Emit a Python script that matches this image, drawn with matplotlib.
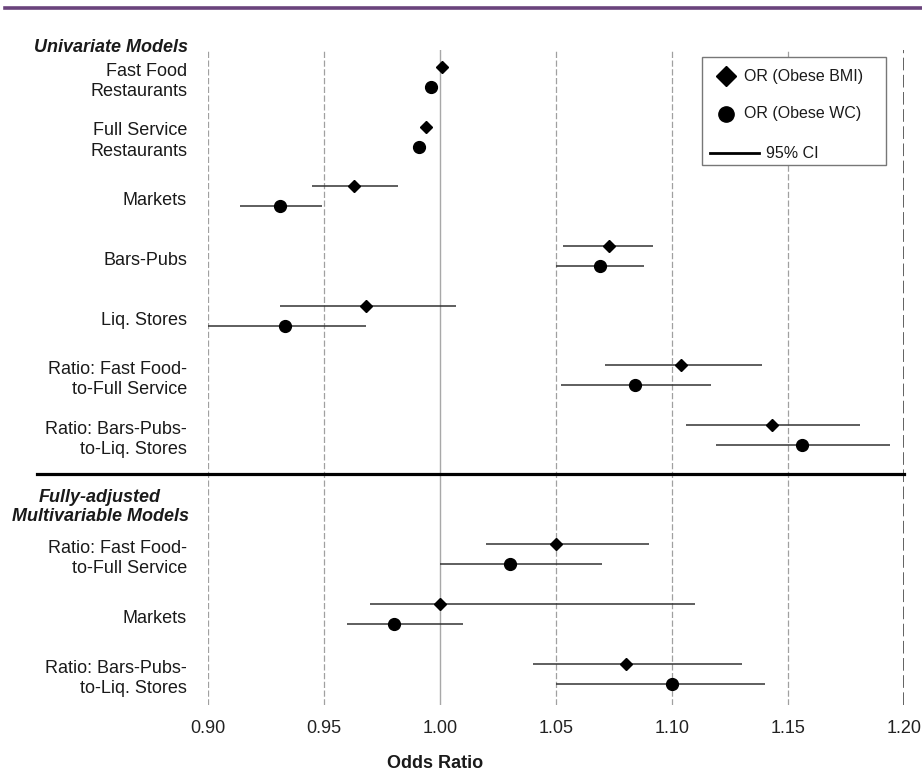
import numpy as np
import matplotlib
matplotlib.use('Agg')
import matplotlib.pyplot as plt
from matplotlib.lines import Line2D
from matplotlib.patches import Rectangle

plt.rcParams['font.family'] = ['Liberation Sans', 'DejaVu Sans']

# row labels (univariate groups 0-6, multivariable groups 8-10)
labels = ['Fast Food\nRestaurants', 'Full Service\nRestaurants', 'Markets', 'Bars-Pubs',
          'Liq. Stores', 'Ratio: Fast Food-\nto-Full Service', 'Ratio: Bars-Pubs-\nto-Liq. Stores',
          'Ratio: Fast Food-\nto-Full Service', 'Markets', 'Ratio: Bars-Pubs-\nto-Liq. Stores']
group_pos = [0, 1, 2, 3, 4, 5, 6, 8, 9, 10]

# OR (Obese BMI)
bmi_or = [1.001, 0.994, 0.963, 1.073, 0.968, 1.104, 1.143, 1.050, 1.000, 1.080]
bmi_lo = [0.999, 0.992, 0.945, 1.053, 0.931, 1.071, 1.106, 1.020, 0.970, 1.040]
bmi_hi = [1.003, 0.996, 0.982, 1.092, 1.007, 1.139, 1.181, 1.090, 1.110, 1.130]

# OR (Obese WC)
wc_or = [0.996, 0.991, 0.931, 1.069, 0.933, 1.084, 1.156, 1.030, 0.980, 1.100]
wc_lo = [0.994, 0.989, 0.914, 1.050, 0.899, 1.052, 1.119, 1.000, 0.960, 1.050]
wc_hi = [0.998, 0.993, 0.949, 1.088, 0.968, 1.117, 1.194, 1.070, 1.010, 1.140]

xticks = [0.90, 0.95, 1.00, 1.05, 1.10, 1.15, 1.20]

W, H = 922, 775
fig = plt.figure(figsize=(W / 100, H / 100), dpi=100)
ax = fig.add_axes([208 / W, 1 - 705 / H, 696 / W, 655 / H])

pos = np.array(group_pos, dtype=float)
off = 0.335  # WC row sits just below the BMI row

# reference lines
for xv in xticks:
    if xv == 1.00:
        ax.axvline(xv, color='#a8a8a8', lw=1.0, zorder=1)
    elif xv == 1.20:
        ax.axvline(xv, color='#555555', lw=1.3, dashes=(7, 2.5), zorder=1)
    else:
        ax.axvline(xv, color='#a0a0a0', lw=0.9, dashes=(5, 2), zorder=1)

ax.hlines(pos, bmi_lo, bmi_hi, color='#333333', lw=1.1, zorder=2)
ax.hlines(pos + off, wc_lo, wc_hi, color='#333333', lw=1.1, zorder=2)
ax.plot(bmi_or, pos, 'D', color='black', ms=6, zorder=3, linestyle='none')
ax.plot(wc_or, pos + off, 'o', color='black', ms=8.5, zorder=3, linestyle='none')

ax.set_xlim(0.90, 1.20)
ax.set_ylim(10.69, -0.285)
ax.set_yticks([])
ax.set_xticks(xticks)
ax.set_xticklabels([f'{v:.2f}' for v in xticks], fontsize=13, color='#222222')
ax.tick_params(axis='x', length=0, pad=11)
for s in ax.spines.values():
    s.set_visible(False)

# row labels
for lab, p in zip(labels, group_pos):
    ax.text(-0.030, p + 0.24, lab, transform=ax.get_yaxis_transform(), ha='right', va='center',
            fontsize=13, color='#1a1a1a', multialignment='right', linespacing=1.25)

# separator between model blocks
ax.plot([-0.2457, 1.0], [6.82, 6.82], color='black', lw=2.3, clip_on=False,
        transform=ax.get_yaxis_transform(), zorder=4)

# section headers
fig.text(34 / W, 1 - 47 / H, 'Univariate Models', fontsize=13, fontweight='bold',
         fontstyle='italic', ha='left', va='center', color='#1a1a1a')
fig.text(100 / W, 1 - 507 / H, 'Fully-adjusted\nMultivariable Models', fontsize=13,
         fontweight='bold', fontstyle='italic', ha='center', va='center',
         multialignment='center', linespacing=1.2, color='#1a1a1a')

# legend box
ax.add_patch(Rectangle((0.7098, 0.8244), 0.2642, 0.1649, transform=ax.transAxes,
                       facecolor='white', edgecolor='#777777', lw=1.0, zorder=5))
ax.plot([0.7443], [0.9603], 'D', color='black', ms=10, transform=ax.transAxes, zorder=6)
ax.plot([0.7443], [0.9023], 'o', color='black', ms=11, transform=ax.transAxes, zorder=6)
ax.plot([0.7213, 0.7917], [0.8427, 0.8427], color='black', lw=2.0, transform=ax.transAxes, zorder=6)
ax.text(0.7701, 0.9603, 'OR (Obese BMI)', transform=ax.transAxes, fontsize=11.5,
        va='center', ha='left', color='#1a1a1a', zorder=6)
ax.text(0.7701, 0.9023, 'OR (Obese WC)', transform=ax.transAxes, fontsize=11.5,
        va='center', ha='left', color='#1a1a1a', zorder=6)
ax.text(0.8017, 0.8427, '95% CI', transform=ax.transAxes, fontsize=11.5,
        va='center', ha='left', color='#1a1a1a', zorder=6)

# axis title
fig.text(435 / W, 1 - 763 / H, 'Odds Ratio', fontsize=13, fontweight='bold',
         ha='center', va='center', color='#1a1a1a')

# purple rule at the top
fig.add_artist(Line2D([5 / W, 1.0], [1 - 8 / H, 1 - 8 / H], color='#6a437c', lw=2.6))

fig.savefig('out.png', dpi=100)
